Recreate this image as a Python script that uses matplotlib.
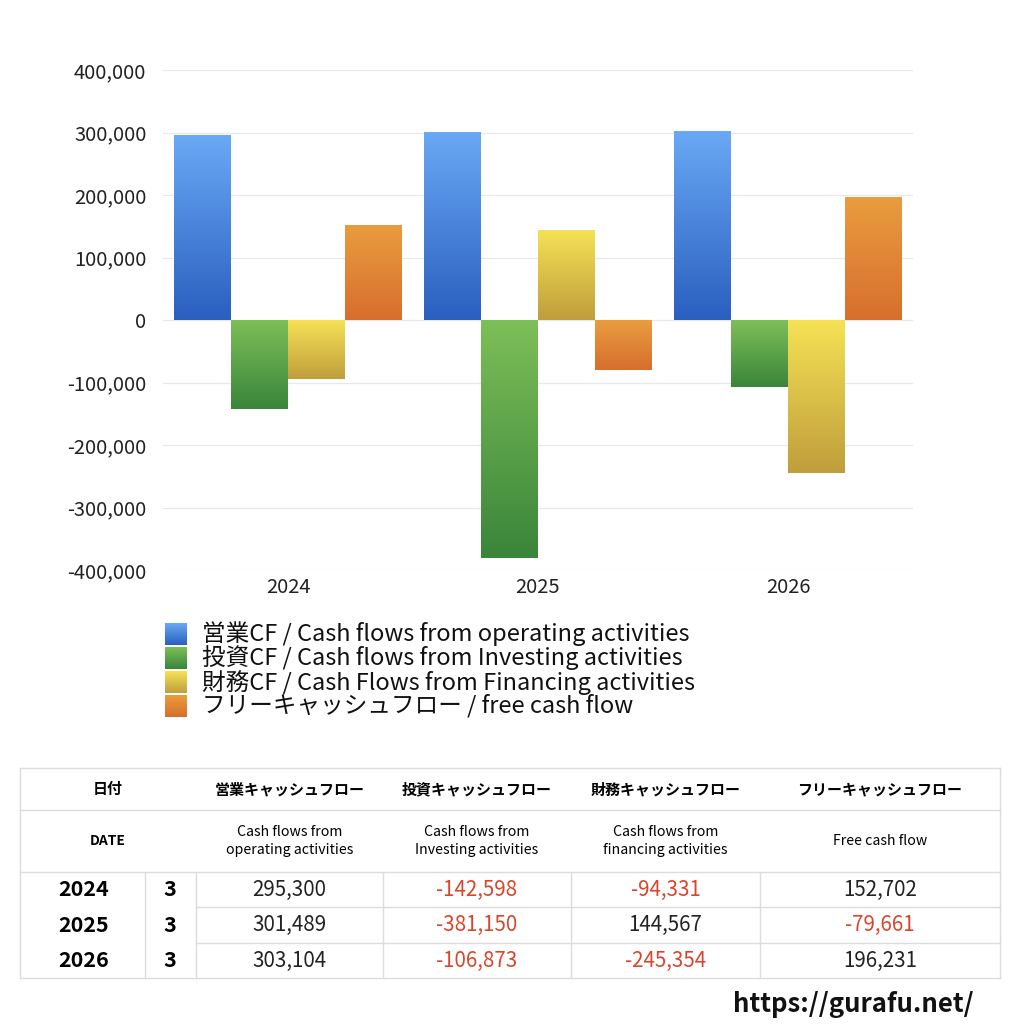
import numpy as np
import matplotlib
matplotlib.use("Agg")
import matplotlib.pyplot as plt
from matplotlib.colors import LinearSegmentedColormap

plt.rcParams['font.family'] = ['Noto Sans CJK JP', 'DejaVu Sans']

years = ["2024", "2025", "2026"]
months = ["3", "3", "3"]
operating = [295300, 301489, 303104]
investing = [-142598, -381150, -106873]
financing = [-94331, 144567, -245354]
free_cf = [152702, -79661, 196231]

series_labels = [
    "営業CF / Cash flows from operating activities",
    "投資CF / Cash flows from Investing activities",
    "財務CF / Cash Flows from Financing activities",
    "フリーキャッシュフロー / free cash flow",
]
head_jp = ["営業キャッシュフロー", "投資キャッシュフロー", "財務キャッシュフロー", "フリーキャッシュフロー"]
head_en = ["Cash flows from\noperating activities", "Cash flows from\nInvesting activities",
           "Cash flows from\nfinancing activities", "Free cash flow"]

# gradient (top, bottom) per series
grads = [("#6aa9f5", "#2a5fbf"), ("#7dbf58", "#3a853a"),
         ("#f6e255", "#bf9e3c"), ("#e99d3f", "#d76e2e")]

fig = plt.figure(figsize=(10.24, 10.24), dpi=100)
W = H = 1024.0

ax = fig.add_axes([163 / W, 1 - 570 / H, 750 / W, 500 / H])
data = [operating, investing, financing, free_cf]
x = np.arange(len(years))
bw = 0.228
for i, vals in enumerate(data):
    bars = ax.bar(x + (i - 1.5) * bw, vals, bw, color="none", zorder=2)
    cmap = LinearSegmentedColormap.from_list("g%d" % i, [grads[i][1], grads[i][0]])
    for b in bars:
        x0, y0 = b.get_x(), b.get_y()
        w, h = b.get_width(), b.get_height()
        lo, hi = min(y0, y0 + h), max(y0, y0 + h)
        grad = np.linspace(0, 1, 256).reshape(-1, 1)
        im = ax.imshow(grad, cmap=cmap, origin="lower", aspect="auto",
                       extent=[x0, x0 + w, lo, hi], zorder=2)
        im.set_clip_path(b)

ax.set_xlim(-0.5, 2.5)
ax.set_ylim(-400000, 400000)
ax.set_yticks(np.arange(-400000, 400001, 100000))
ax.yaxis.set_major_formatter(matplotlib.ticker.FuncFormatter(lambda v, p: f"{int(v):,}"))
ax.set_xticks(x)
ax.set_xticklabels(years)
ax.grid(axis="y", color="#e8e8e8", lw=0.9, zorder=0)
for s in ax.spines.values():
    s.set_visible(False)
ax.tick_params(length=0, labelsize=14.5, colors="#222222")
ax.tick_params(axis="y", pad=12)
ax.tick_params(axis="x", pad=5)

# overlay in pixel coordinates for legend, table, url
ov = fig.add_axes([0, 0, 1, 1])
ov.set_xlim(0, W)
ov.set_ylim(H, 0)
ov.axis("off")

for i, lab in enumerate(series_labels):
    yc = 634 + i * 24
    cmap = LinearSegmentedColormap.from_list("l%d" % i, [grads[i][0], grads[i][1]])
    ov.imshow(np.linspace(0, 1, 64).reshape(-1, 1), cmap=cmap, aspect="auto",
              extent=[165, 187, yc + 11, yc - 11], zorder=3)
    ov.text(202, yc, lab, fontsize=17, va="center", ha="left", color="#111111")

# table
lc = "#dcdcdc"
tl, tr = 20, 1000
col_x = [145, 196, 383, 571, 760]
ov.plot([tl, tr], [768, 768], color=lc, lw=1)
ov.plot([tl, tr], [810, 810], color=lc, lw=1)
ov.plot([tl, tr], [872, 872], color=lc, lw=1)
ov.plot([196, tr], [907, 907], color=lc, lw=1)
ov.plot([196, tr], [943, 943], color=lc, lw=1)
ov.plot([tl, tr], [978, 978], color=lc, lw=1)
ov.plot([tl, tl], [768, 978], color=lc, lw=1)
ov.plot([tr, tr], [768, 978], color=lc, lw=1)
for cx in col_x:
    ov.plot([cx, cx], [872, 978], color=lc, lw=1)

centers = [(196 + 383) / 2, (383 + 571) / 2, (571 + 760) / 2, (760 + 1000) / 2]
ov.text(108, 789, "日付", fontsize=10.8, weight="bold", ha="center", va="center")
ov.text(108, 841, "DATE", fontsize=10, weight="bold", ha="center", va="center")
for c, jp, en in zip(centers, head_jp, head_en):
    ov.text(c, 789, jp, fontsize=10.8, weight="bold", ha="center", va="center")
    ov.text(c, 841, en, fontsize=10.2, ha="center", va="center", linespacing=1.35)

row_c = [889.5, 925, 960.5]
red = "#d9452c"
for r in range(len(years)):
    ov.text(84, row_c[r], years[r], fontsize=15.5, weight="bold", ha="center", va="center")
    ov.text(170, row_c[r], months[r], fontsize=15.5, weight="bold", ha="center", va="center")
    for j, vals in enumerate(data):
        v = vals[r]
        ov.text(centers[j], row_c[r], f"{v:,}", fontsize=14.8, ha="center", va="center",
                color=red if v < 0 else "#222222")

ov.text(853, 1004, "https://gurafu.net/", fontsize=18.5, weight="bold", ha="center",
        va="center", color="#111111")

fig.savefig("out.png", dpi=100, facecolor="white")
